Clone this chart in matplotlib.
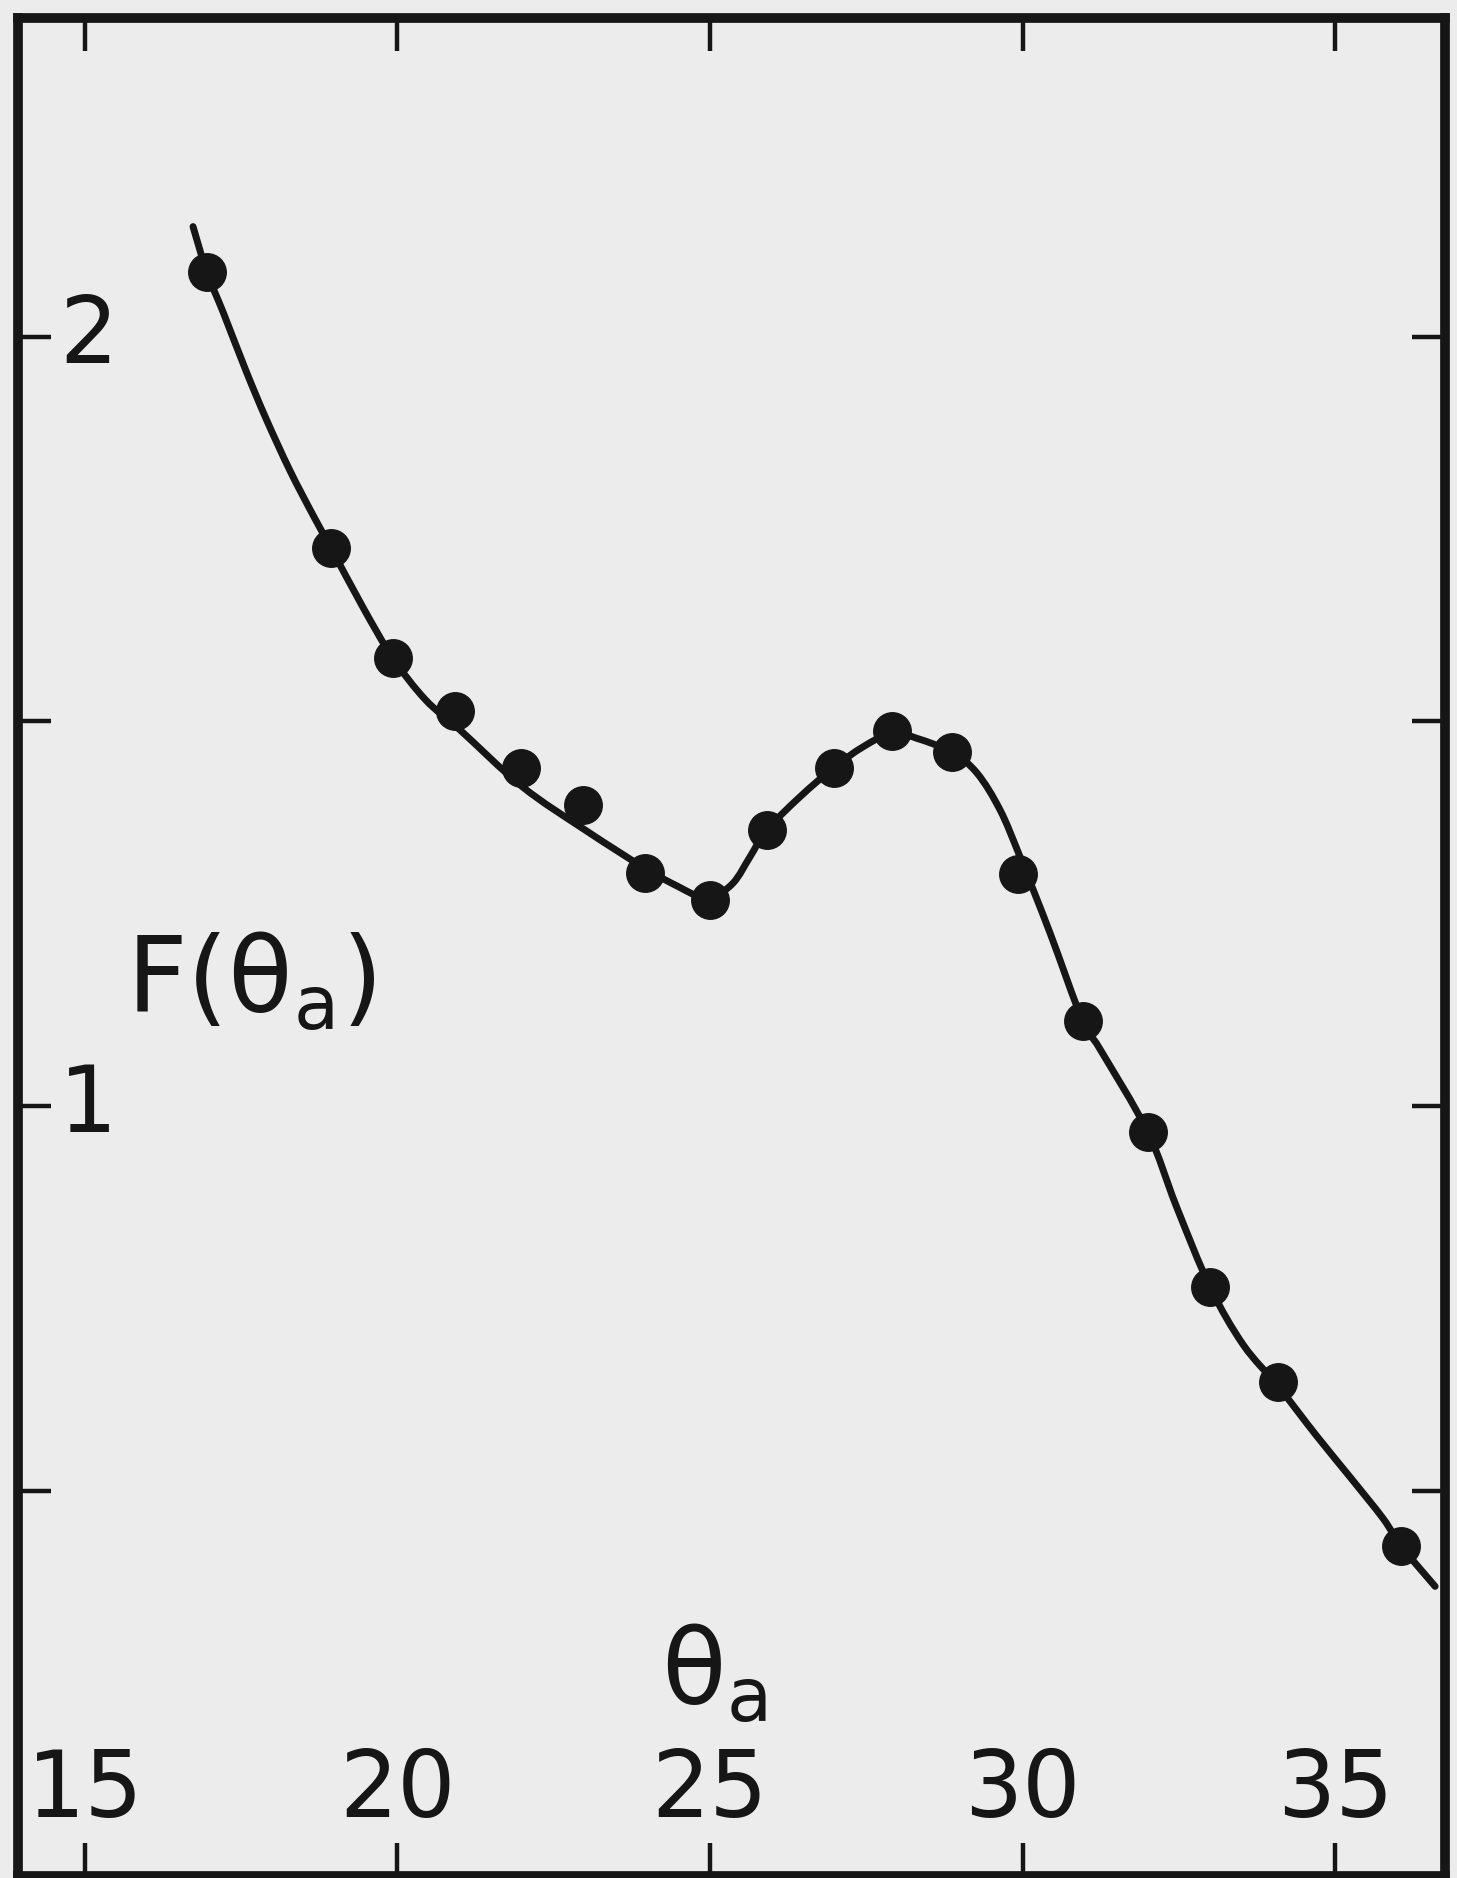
import numpy as np
import matplotlib.pyplot as plt
from matplotlib.path import Path
from matplotlib.patches import PathPatch

# measured points
theta = [16.95, 18.94, 19.93, 20.92, 21.97, 22.97, 23.96, 25.0, 25.91,
         26.98, 27.91, 28.87, 29.93, 30.96, 32.0, 33.0, 34.09, 36.06]
F = [2.084, 1.725, 1.582, 1.514, 1.440, 1.391, 1.303, 1.268, 1.359,
     1.440, 1.488, 1.460, 1.302, 1.111, 0.967, 0.765, 0.642, 0.428]

curve_theta = [16.73, 16.95, 17.22, 17.58, 17.90, 18.28, 18.65, 18.94, 19.45,
               19.93, 20.45, 21.0, 22.0, 23.0, 24.0, 24.5, 24.84, 25.0, 25.37,
               25.64, 25.91, 26.44, 26.98, 27.45, 27.91, 28.31, 28.87, 29.27,
               29.64, 29.96, 30.44, 30.96, 31.24, 32.0, 32.46, 33.0, 33.53,
               34.09, 34.7, 35.24, 35.77, 36.06, 36.6]
curve_F = [2.143, 2.084, 2.030, 1.955, 1.893, 1.826, 1.768, 1.725, 1.648,
           1.582, 1.528, 1.489, 1.415, 1.359, 1.307, 1.285, 1.271, 1.268, 1.290,
           1.324, 1.359, 1.402, 1.440, 1.467, 1.485, 1.478, 1.460, 1.433,
           1.385, 1.324, 1.225, 1.111, 1.074, 0.967, 0.870, 0.765, 0.690,
           0.636, 0.572, 0.518, 0.464, 0.428, 0.376]

xticks = [15, 20, 25, 30, 35]
xticklabels = ['15', '20', '25', '30', '35']
yticks = [0.5, 1, 1.5, 2]
ylabeled = [1, 2]
ylabels = ['1', '2']

ink = '#161616'
paper = '#ececec'

plt.rcParams['font.family'] = ['DejaVu Sans']


def smooth_path(xs, ys):
    # catmull-rom through the read points, as cubic bezier segments
    p = np.column_stack([xs, ys])
    n = len(p)
    verts = [p[0]]
    codes = [Path.MOVETO]
    for i in range(n - 1):
        p0 = p[max(i - 1, 0)]
        p1 = p[i]
        p2 = p[i + 1]
        p3 = p[min(i + 2, n - 1)]
        verts += [p1 + (p2 - p0) / 6, p2 - (p3 - p1) / 6, p2]
        codes += [Path.CURVE4] * 3
    return Path(verts, codes)


fig = plt.figure(figsize=(14.57, 18.78), dpi=100)
fig.patch.set_facecolor(paper)
ax = fig.add_axes([0.01235, 0.0012, 0.9795, 0.9892])
ax.set_facecolor(paper)

ax.add_patch(PathPatch(smooth_path(curve_theta, curve_F), fill=False,
                       ec=ink, lw=5, capstyle='round', zorder=2))
ax.plot(theta, F, 'o', color=ink, markersize=27, zorder=3)

ax.set_xlim(13.93, 36.76)
ax.set_ylim(0, 2.414)

for s in ax.spines.values():
    s.set_linewidth(7)
    s.set_color(ink)

ax.set_xticks(xticks)
ax.set_yticks(yticks)
ax.tick_params(direction='in', length=24, width=3.2, color=ink,
               top=True, right=True, labelbottom=False, labelleft=False)

# labels sit inside the frame
for t, lab in zip(xticks, xticklabels):
    ax.text(t, 0.0456, lab, transform=ax.get_xaxis_transform(),
            ha='center', va='center', fontsize=66, color=ink)
for v, lab in zip(ylabeled, ylabels):
    ax.text(0.049, v, lab, transform=ax.get_yaxis_transform(),
            ha='center', va='center', fontsize=66, color=ink)

ax.text(0.076, 1.122, r'$\mathregular{F(θ_a)}$', transform=ax.get_yaxis_transform(),
        ha='left', va='baseline', fontsize=76, color=ink)
ax.text(24.22, 0.222, r'$\mathregular{θ_a}$', ha='left', va='baseline',
        fontsize=76, color=ink)

fig.savefig('out.png', dpi=100, facecolor=paper)
